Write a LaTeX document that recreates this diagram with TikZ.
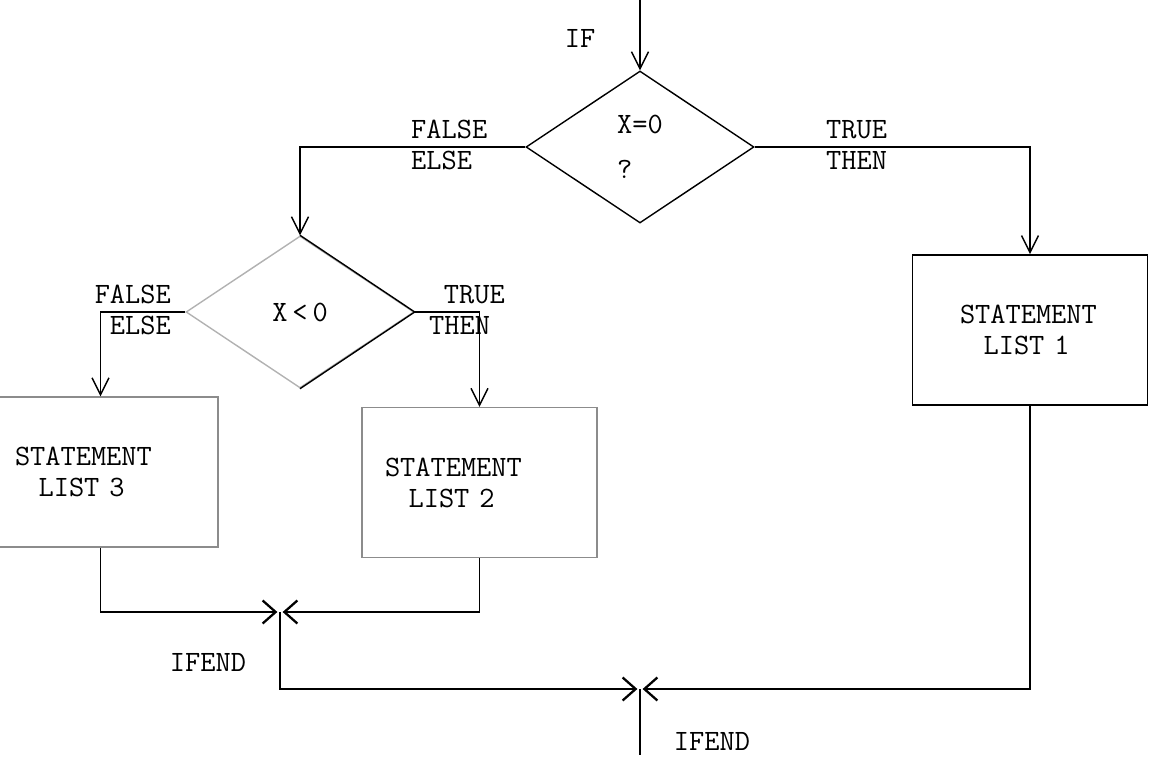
\documentclass[tikz,border=0pt]{standalone}
\usepackage{xcolor}
\usetikzlibrary{arrows.meta,shapes.geometric}

\begin{document}
\begin{tikzpicture}[
    font=\ttfamily\fontsize{16.8}{17.6}\selectfont,
    flow/.style={-{Straight Barb[length=3.4mm,width=3.4mm]}, line width=0.8pt, draw=black},
    merge/.style={-{Straight Barb[length=2.6mm,width=4.6mm,line width=1.3pt]}, line width=0.8pt, draw=black, shorten >=1.5pt},
    line/.style={line width=0.8pt, draw=black},
    decision/.style={
        diamond,
        draw=black,
        line width=0.8pt,
        minimum width=4.56cm,
        minimum height=3.04cm,
        inner sep=0pt,
        align=left
    },
    stmtbox/.style={
        rectangle,
        draw=black!45,
        line width=0.7pt,
        minimum width=4.7cm,
        minimum height=3cm,
        inner sep=0pt,
        align=left,
        text width=#1
    }
]
\useasboundingbox (0,0) rectangle (23.02,-15.16);

% =========================================================
% First test
% =========================================================
\coordinate (entry) at (12.8,0);
\node (iflbl) at (11.6,-0.76) {IF};
\node[decision] (cond1) at (12.8,-2.94) {X=0\\[8pt]?};

\node[anchor=west, align=left] (false1) at (8.1,-2.9) {FALSE\\ELSE};
\node[anchor=west, align=left] (true1) at (16.4,-2.9) {TRUE\\THEN};

\node[stmtbox=2.8cm, draw=black, line width=1pt] (stmt1) at (20.6,-6.6) {STATEMENT\\\hspace*{0.8em}LIST 1};

% =========================================================
% Second test
% =========================================================
\node[decision, draw=black!30] (cond2) at (6.0,-6.24) {X\,<\,0};
\draw[line] (cond2.north) -- (cond2.east) -- (cond2.south);

\node[anchor=east, align=right] (false2) at (3.54,-6.2) {FALSE\\ELSE};
\node[anchor=west, align=left] (true2) at (8.46,-6.2) {\hspace*{0.5em}TRUE\\THEN};

\node[stmtbox=3.78cm] (stmt2) at (9.59,-9.65) {STATEMENT\\\hspace*{0.8em}LIST 2};
\node[stmtbox=3.42cm] (stmt3) at (2.01,-9.44) {STATEMENT\\\hspace*{0.8em}LIST 3};

% Join points
\coordinate (join1) at (5.6,-12.24);
\coordinate (join2) at (12.8,-13.78);
\coordinate (exit) at (12.8,-15.1);
\node (endlbl1) at (4.16,-13.24) {IFEND};
\node (endlbl2) at (14.24,-14.82) {IFEND};

% =========================================================
% Connectors
% =========================================================
\draw[flow] (entry) -- (cond1.north);
\draw[flow] (cond1.west) -| (cond2.north);
\draw[flow] (cond1.east) -| (stmt1.north);
\draw[flow] (cond2.east) -| (stmt2.north);
\draw[flow] (cond2.west) -| (stmt3.north);

\draw[merge] (stmt3.south) |- (join1);
\draw[merge] (stmt2.south) |- (join1);
\draw[merge] (join1) |- (join2);
\draw[merge] (stmt1.south) |- (join2);
\draw[line] (join2) -- (exit);

\end{tikzpicture}
\end{document}
